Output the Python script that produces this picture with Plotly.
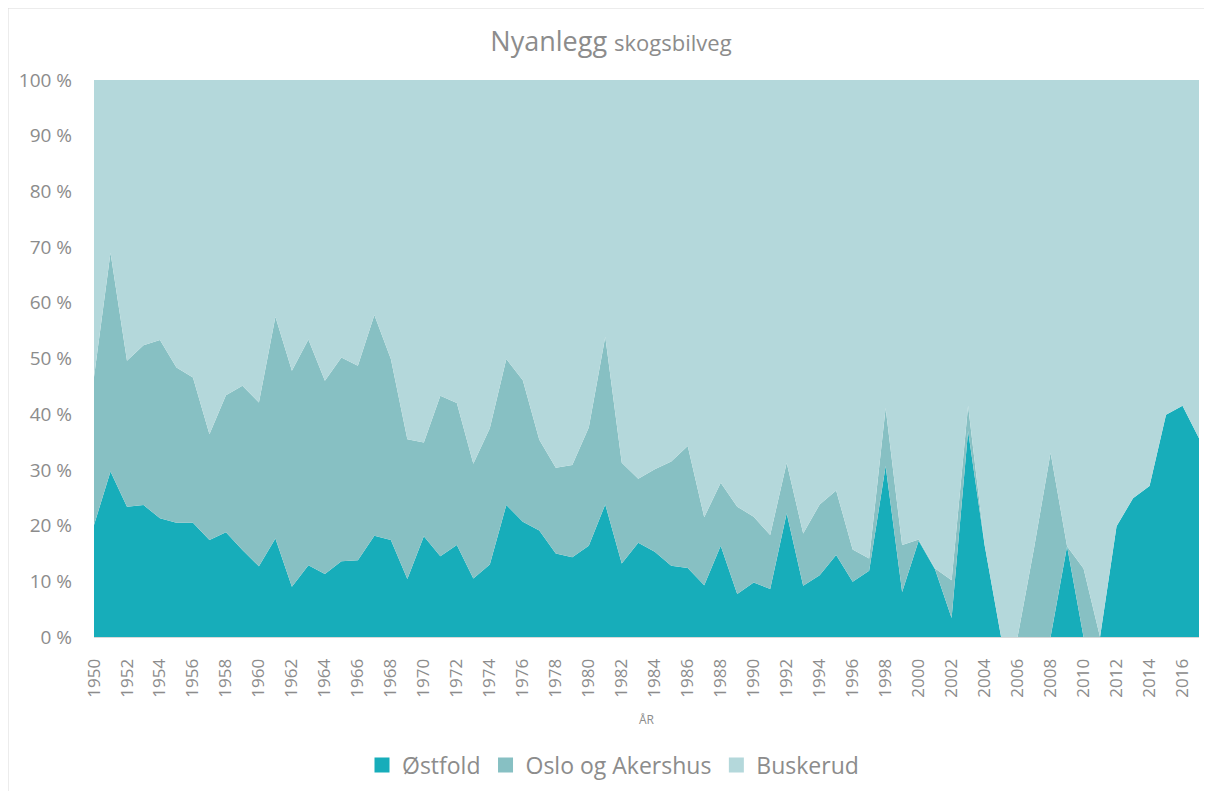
import plotly.graph_objects as go

years = list(range(1950, 2018))

ostfold = [20.1, 29.7, 23.4, 23.7, 21.3, 20.5, 20.5, 17.4, 18.8, 15.6,
           12.7, 17.7, 9.0, 12.9, 11.3, 13.6, 13.8, 18.2, 17.4, 10.4,
           18.1, 14.5, 16.5, 10.5, 13.0, 23.7, 20.7, 19.1, 15.0, 14.3,
           16.4, 23.8, 13.2, 16.9, 15.3, 12.8, 12.4, 9.3, 16.4, 7.7,
           9.8, 8.6, 22.2, 9.2, 11.1, 14.7, 9.9, 11.9, 30.7, 8.1,
           17.3, 12.1, 3.4, 37.0, 16.5, 0, 0, 0, 0, 16.3,
           0, 0, 19.9, 24.9, 27.1, 39.9, 41.5, 35.7]

oslo_akershus = [26.6, 39.3, 26.2, 28.7, 32.0, 27.9, 26.1, 19.0, 24.6, 29.5,
                 29.4, 39.8, 38.8, 40.5, 34.7, 36.6, 34.9, 39.6, 32.5, 25.1,
                 16.8, 28.8, 25.5, 20.6, 24.5, 26.2, 25.4, 16.3, 15.4, 16.6,
                 21.2, 30.1, 18.1, 11.5, 14.8, 18.7, 21.9, 12.2, 11.3, 15.7,
                 11.8, 9.7, 9.1, 9.4, 12.7, 11.6, 5.8, 2.2, 10.4, 8.4,
                 0.2, 0.2, 6.8, 4.5, 0, 0, 0, 16.0, 33.1, 0,
                 12.3, 0, 0, 0, 0, 0, 0, 0]

buskerud = [round(100 - a - b, 1) for a, b in zip(ostfold, oslo_akershus)]

series = [("Østfold", ostfold, "#17ADBA"),
          ("Oslo og Akershus", oslo_akershus, "#87C0C3"),
          ("Buskerud", buskerud, "#B4D8DB")]

x_ticks = list(range(1950, 2018, 2))

fig = go.Figure()
for name, vals, col in series:
    fig.add_trace(go.Scatter(
        x=years, y=vals, name=name, mode="none",
        stackgroup="one", groupnorm="percent",
        fillcolor=col, showlegend=False,
        hoverinfo="skip"))
# legend entries with square swatches
for name, vals, col in series:
    fig.add_trace(go.Scatter(
        x=[None], y=[None], name=name, mode="markers",
        marker=dict(symbol="square", size=15, color=col),
        hoverinfo="skip"))

OFF = 8  # page body offset
W, H = 1212 - OFF, 791 - OFF
L, T = 94 - OFF, 80 - OFF
R = W - (1199 - OFF)
B = H - (637 - OFF)
pw, ph = W - L - R, H - T - B

def px2x(px):
    return (px - OFF - L) / pw

def py2y(py):
    return ((637 - OFF) - (py - OFF)) / ph

fig.update_layout(
    width=W, height=H,
    margin=dict(l=L, r=R, t=T, b=B, autoexpand=False),
    paper_bgcolor="white", plot_bgcolor="white",
    font=dict(family="Open Sans", color="#8c8c8c"),
    title=dict(text="Nyanlegg <span style='font-size:22px'>skogsbilveg</span>",
               x=px2x(611), xanchor="center", y=1 - (42 - OFF) / H, yanchor="middle",
               xref="paper",
               font=dict(size=27, color="#8c8c8c", family="Open Sans")),
    xaxis=dict(range=[1950, 2017], tickvals=x_ticks, tickangle=-90,
               tickfont=dict(size=17, color="#8c8c8c"),
               ticklabelstandoff=14,
               showgrid=False, zeroline=False, showline=True,
               linecolor="#d9d9d9", linewidth=1, ticks="",
               title=dict(text="ÅR", font=dict(size=12, color="#8c8c8c"),
                          standoff=18)),
    yaxis=dict(range=[0, 100], dtick=10, ticksuffix=" %",
               tickfont=dict(size=19, color="#8c8c8c"),
               ticklabelstandoff=21,
               showgrid=False, zeroline=False, showline=False, ticks=""),
    legend=dict(orientation="h", x=px2x(613), xanchor="center",
                y=py2y(765), yanchor="middle", itemsizing="trace",
                font=dict(size=23, color="#8c8c8c"), traceorder="normal"),
    showlegend=True,
)

fig.add_shape(type="rect", xref="paper", yref="paper",
              x0=px2x(8), x1=px2x(1240),
              y0=py2y(820), y1=py2y(8),
              line=dict(color="#d9d9d9", width=1), fillcolor="rgba(0,0,0,0)",
              layer="below")

fig.write_html("out.html")
